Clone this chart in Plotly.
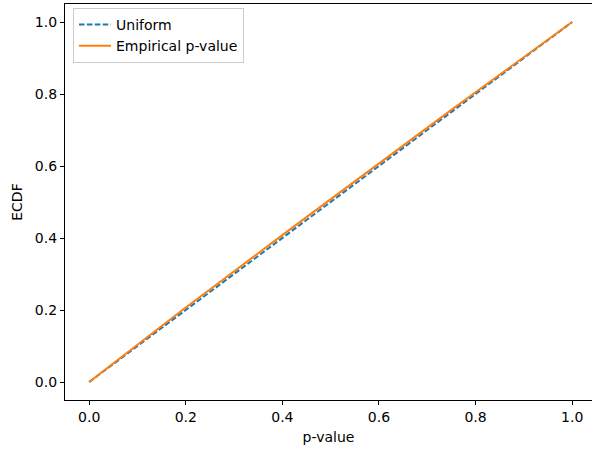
import plotly.graph_objects as go

# Data
uniform_x = [0.0, 1.0]
uniform_y = [0.0, 1.0]

emp_x = [0.0, 0.05, 0.10, 0.15, 0.20, 0.25, 0.30, 0.35, 0.40, 0.45, 0.50,
         0.55, 0.60, 0.65, 0.70, 0.75, 0.80, 0.85, 0.90, 0.95, 1.0]
emp_y = [0.0, 0.052, 0.104, 0.156, 0.207, 0.257, 0.308, 0.358, 0.408, 0.458, 0.508,
         0.558, 0.608, 0.657, 0.707, 0.756, 0.805, 0.854, 0.903, 0.951, 1.0]

x_ticks = [0.0, 0.2, 0.4, 0.6, 0.8, 1.0]
y_ticks = [0.0, 0.2, 0.4, 0.6, 0.8, 1.0]

font = "DejaVu Sans"

fig = go.Figure()
fig.add_trace(go.Scatter(x=uniform_x, y=uniform_y, mode="lines", name="Uniform",
                         line=dict(color="#1f77b4", width=2, dash="5.5px,2.4px")))
fig.add_trace(go.Scatter(x=emp_x, y=emp_y, mode="lines", name="Empirical p-value",
                         line=dict(color="#ff7f0e", width=2)))

fig.update_layout(
    width=592, height=452,
    margin=dict(l=65, r=0, t=4, b=52),
    plot_bgcolor="white", paper_bgcolor="white",
    font=dict(family=font, size=14, color="black"),
    showlegend=True,
    legend=dict(x=0.0152, y=0.99, xanchor="left", yanchor="top",
                bgcolor="rgba(255,255,255,0.8)", bordercolor="#cccccc", borderwidth=1,
                font=dict(size=14), tracegroupgap=0, itemwidth=32),
    xaxis=dict(range=[-0.05, 1.0411], tickvals=x_ticks,
               ticktext=[f"{v:.1f}" for v in x_ticks],
               showline=True, linecolor="black", linewidth=1.2, mirror=True,
               ticks="outside", ticklen=4, tickcolor="black",
               showgrid=False, zeroline=False,
               title=dict(text="p-value", standoff=8, font=dict(size=14))),
    yaxis=dict(range=[-0.05, 1.05], tickvals=y_ticks,
               ticktext=[f"{v:.1f}" for v in y_ticks],
               showline=True, linecolor="black", linewidth=1.2, mirror=False,
               ticks="outside", ticklen=4, tickcolor="black",
               showgrid=False, zeroline=False,
               title=dict(text="ECDF", standoff=8, font=dict(size=14))),
)

fig.write_html("out.html")
